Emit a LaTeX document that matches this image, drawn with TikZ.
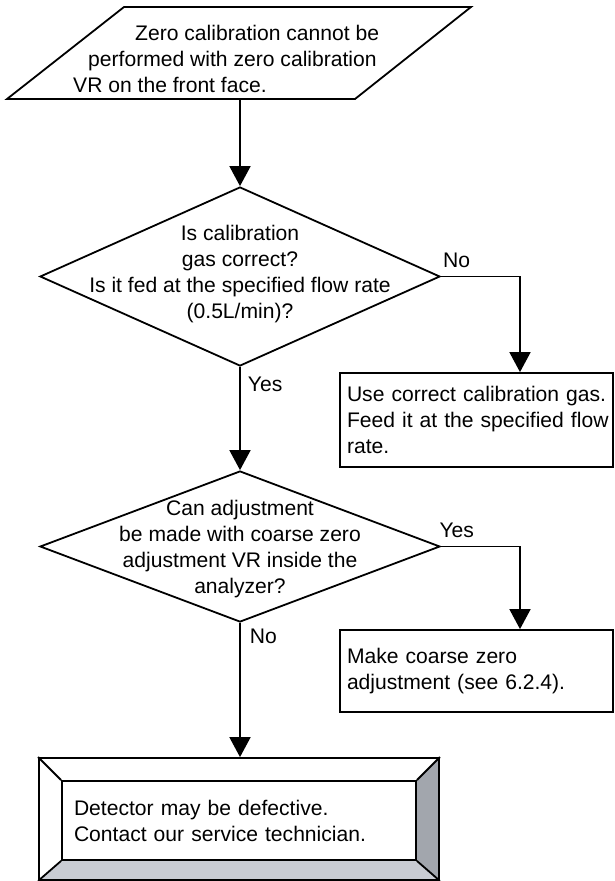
\documentclass[tikz,border=0pt]{standalone}
\usepackage{fontspec}
\setmainfont{Liberation Sans}
\usetikzlibrary{shapes.geometric,arrows.meta,positioning,backgrounds}
\definecolor{bevdark}{RGB}{162,166,173}
\definecolor{bevlight}{RGB}{201,204,211}
\tikzset{
	every node/.style={font=\fontsize{21.1}{26}\selectfont},
	outline/.style={draw, line width=1.8pt},
	decision/.style={diamond, outline, inner sep=0pt},
	action/.style={rectangle, outline, align=left, text width=259pt, inner xsep=7pt},
	txt/.style={align=center, inner sep=0pt},
	lbl/.style={inner sep=0pt},
	arr/.style={line width=1.8pt, -{Triangle[length=20pt,width=21pt]}},
}

\begin{document}
\begin{tikzpicture}[x=1pt,y=-1pt]
			\useasboundingbox (0,0) rectangle (615,881);
			% Define nodes
			\node[lbl, anchor=west, align=left] (start) at (73,58.5) {\hspace*{62pt}Zero calibration cannot be\\\hspace*{15pt}performed with zero calibration\\VR on the front face.};
			\draw[outline] (7,99) -- (124,7) -- (471,7) -- (355,99) -- cycle;
			\coordinate (startout) at (240,99);
			\node[decision, minimum width=400pt, minimum height=179pt] (gas) at (240,276.5) {};
			\node[txt] (gastxt) at (240,274) {Is calibration\\gas correct?\\Is it fed at the specified flow rate\\(0.5L/min)?};
			\node[action, minimum height=94pt] (fixgas) at (476.5,420) {\mbox{Use correct calibration gas.}\\\mbox{Feed it at the specified flow}\\rate.};
			\node[decision, minimum width=400pt, minimum height=151pt] (coarse) at (240,546.5) {};
			\node[txt] (coarsetxt) at (240,549) {Can adjustment\\be made with coarse zero\\adjustment VR inside the\\analyzer?};
			\node[action, minimum height=82pt] (fixcoarse) at (476.5,671) {Make coarse zero\\adjustment (see 6.2.4).};
			\node[outline, minimum width=400pt, minimum height=122pt] (defect) at (239,819) {};
			\node[outline, minimum width=354pt, minimum height=79pt, text width=330pt, inner xsep=12pt, align=left] (defecttxt) at (239,820.5) {Detector may be defective.\\Contact our service technician.};
			\coordinate (drop) at (520,0);

			% Bevel of the end box
			\begin{scope}[on background layer]
				\fill[bevdark] (defect.north east) -- (defect.south east) -- (defecttxt.south east) -- (defecttxt.north east) -- cycle;
				\fill[bevlight] (defect.south west) -- (defect.south east) -- (defecttxt.south east) -- (defecttxt.south west) -- cycle;
			\end{scope}
			\foreach \c in {north west,north east,south west,south east}
				\draw[line width=1.8pt] (defect.\c) -- (defecttxt.\c);

			% Connect the nodes
			\draw[arr] (startout) -- (gas.north);
			\draw[arr] (gas.east) -| node[lbl, pos=0.1, above=8pt] {No} (drop |- fixgas.north);
			\draw[arr] (gas.south) -- node[lbl, pos=0.17, right=7pt] {Yes} (coarse.north);
			\draw[arr] (coarse.east) -| node[lbl, pos=0.1, above=8pt] {Yes} (drop |- fixcoarse.north);
			\draw[arr] (coarse.south) -- node[lbl, pos=0.1, right=9pt] {No} (coarse.south |- defect.north);
		\end{tikzpicture}
\end{document}
